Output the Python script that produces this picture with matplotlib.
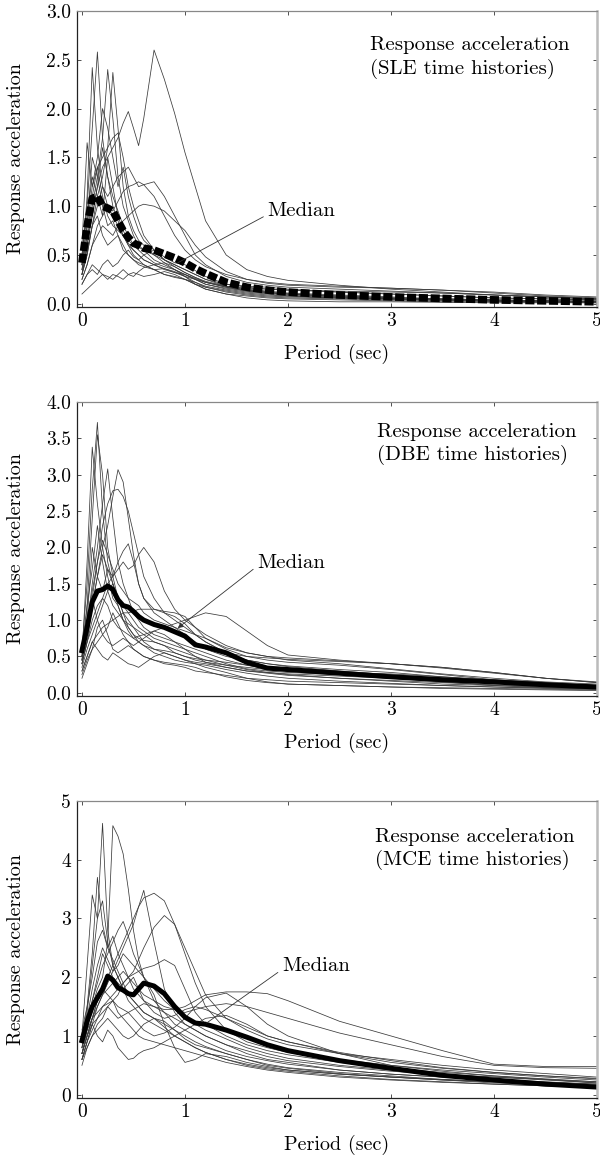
import matplotlib
matplotlib.use("Agg")
import matplotlib.pyplot as plt

plt.rcParams['font.family'] = ['cmr10', 'DejaVu Serif']
plt.rcParams['axes.formatter.use_mathtext'] = True
plt.rcParams['mathtext.fontset'] = 'cm'

# periods (sec) shared by every spectrum
periods = [0, 0.05, 0.1, 0.15, 0.2, 0.25, 0.3, 0.35, 0.4, 0.45, 0.5, 0.55, 0.6,
           0.7, 0.8, 0.9, 1.0, 1.1, 1.2, 1.4, 1.6, 1.8, 2.0, 2.5, 3.0, 3.5, 4.0, 4.5, 5.0]

# SLE time histories
sle_curves = [
    [0.3, 0.6, 0.9, 1.2, 1.4, 1.5, 1.6, 1.7, 1.85, 1.97, 1.8, 1.62, 1.9, 2.6, 2.3, 1.95, 1.55, 1.2, 0.85, 0.5, 0.35, 0.28, 0.24, 0.19, 0.15, 0.12, 0.09, 0.07, 0.05],
    [0.5, 1.0, 1.8, 2.58, 1.7, 1.3, 1.1, 0.95, 0.8, 0.7, 0.6, 0.55, 0.5, 0.42, 0.38, 0.35, 0.3, 0.26, 0.22, 0.17, 0.13, 0.11, 0.09, 0.07, 0.05, 0.04, 0.03, 0.025, 0.02],
    [0.4, 1.1, 2.42, 1.6, 1.2, 1.0, 0.9, 0.8, 0.7, 0.6, 0.55, 0.5, 0.45, 0.4, 0.35, 0.32, 0.3, 0.25, 0.2, 0.15, 0.12, 0.1, 0.08, 0.06, 0.05, 0.04, 0.03, 0.02, 0.02],
    [0.35, 0.6, 1.0, 1.3, 1.7, 2.4, 1.9, 1.3, 1.0, 0.85, 0.7, 0.6, 0.55, 0.45, 0.4, 0.35, 0.3, 0.25, 0.2, 0.16, 0.13, 0.11, 0.1, 0.07, 0.05, 0.04, 0.03, 0.03, 0.02],
    [0.3, 0.5, 0.8, 1.1, 1.3, 1.6, 2.37, 1.8, 1.2, 0.9, 0.75, 0.65, 0.6, 0.5, 0.42, 0.38, 0.32, 0.27, 0.22, 0.17, 0.14, 0.12, 0.1, 0.08, 0.06, 0.05, 0.04, 0.03, 0.03],
    [0.6, 1.65, 1.2, 1.4, 1.1, 0.9, 0.8, 0.75, 0.7, 0.6, 0.5, 0.45, 0.4, 0.35, 0.3, 0.28, 0.25, 0.22, 0.18, 0.14, 0.11, 0.09, 0.08, 0.06, 0.05, 0.04, 0.035, 0.03, 0.025],
    [0.3, 0.5, 0.8, 1.0, 1.2, 1.1, 1.2, 1.3, 1.35, 1.4, 1.3, 1.2, 1.22, 1.25, 1.1, 0.9, 0.7, 0.5, 0.4, 0.28, 0.22, 0.19, 0.17, 0.15, 0.13, 0.11, 0.09, 0.07, 0.05],
    [0.4, 0.7, 1.1, 1.4, 1.5, 1.6, 1.7, 1.75, 1.5, 1.2, 1.0, 0.85, 0.7, 0.55, 0.45, 0.38, 0.32, 0.27, 0.23, 0.18, 0.15, 0.13, 0.11, 0.09, 0.07, 0.05, 0.04, 0.03, 0.02],
    [0.25, 0.4, 0.6, 0.7, 0.8, 0.75, 0.7, 0.8, 0.85, 0.9, 0.95, 1.0, 1.02, 1.0, 0.95, 0.85, 0.75, 0.6, 0.48, 0.33, 0.25, 0.21, 0.19, 0.17, 0.16, 0.14, 0.11, 0.08, 0.06],
    [0.1, 0.15, 0.2, 0.25, 0.3, 0.28, 0.25, 0.3, 0.35, 0.3, 0.28, 0.33, 0.37, 0.4, 0.42, 0.35, 0.28, 0.2, 0.15, 0.1, 0.08, 0.06, 0.05, 0.04, 0.03, 0.02, 0.02, 0.015, 0.01],
    [0.2, 0.3, 0.35, 0.3, 0.4, 0.45, 0.38, 0.42, 0.5, 0.55, 0.48, 0.45, 0.5, 0.55, 0.45, 0.4, 0.35, 0.3, 0.25, 0.2, 0.18, 0.17, 0.15, 0.12, 0.1, 0.08, 0.06, 0.05, 0.04],
    [0.5, 0.9, 1.3, 1.1, 0.9, 1.5, 1.2, 0.9, 0.75, 0.65, 0.6, 0.58, 0.55, 0.5, 0.45, 0.4, 0.35, 0.3, 0.25, 0.18, 0.14, 0.12, 0.1, 0.08, 0.06, 0.05, 0.04, 0.03, 0.02],
    [0.35, 0.7, 0.9, 1.2, 1.6, 1.3, 1.0, 0.85, 0.7, 0.62, 0.55, 0.5, 0.45, 0.4, 0.36, 0.32, 0.28, 0.25, 0.22, 0.18, 0.16, 0.15, 0.14, 0.13, 0.12, 0.11, 0.09, 0.07, 0.05],
    [0.3, 0.55, 0.8, 0.9, 0.7, 0.6, 0.65, 0.7, 0.55, 0.5, 0.45, 0.4, 0.38, 0.35, 0.36, 0.33, 0.28, 0.22, 0.17, 0.12, 0.09, 0.07, 0.06, 0.05, 0.04, 0.03, 0.025, 0.02, 0.02],
    [0.25, 0.4, 0.6, 0.8, 0.9, 1.0, 0.95, 1.05, 1.15, 1.2, 1.22, 1.25, 1.22, 1.1, 0.9, 0.7, 0.55, 0.45, 0.38, 0.3, 0.25, 0.22, 0.2, 0.18, 0.16, 0.14, 0.12, 0.09, 0.07],
    [0.45, 0.8, 1.5, 1.3, 1.0, 0.8, 0.85, 0.7, 0.6, 0.5, 0.45, 0.42, 0.4, 0.35, 0.3, 0.27, 0.25, 0.2, 0.17, 0.13, 0.1, 0.08, 0.07, 0.06, 0.05, 0.04, 0.03, 0.03, 0.02],
    [0.2, 0.3, 0.4, 0.35, 0.3, 0.25, 0.3, 0.28, 0.25, 0.3, 0.32, 0.3, 0.28, 0.3, 0.33, 0.3, 0.25, 0.2, 0.15, 0.1, 0.06, 0.04, 0.03, 0.02, 0.02, 0.015, 0.01, 0.01, 0.01],
    [0.4, 0.8, 1.2, 1.5, 2.0, 1.8, 1.5, 1.2, 1.4, 1.1, 0.9, 0.75, 0.65, 0.55, 0.48, 0.42, 0.4, 0.34, 0.28, 0.2, 0.17, 0.15, 0.14, 0.12, 0.1, 0.08, 0.06, 0.05, 0.04],
]
sle_median = [0.42, 0.8, 1.08, 1.1, 1.0, 0.98, 0.95, 0.85, 0.75, 0.68, 0.62, 0.6, 0.57, 0.55, 0.51, 0.47, 0.42, 0.36, 0.31, 0.22, 0.17, 0.14, 0.12, 0.09, 0.07, 0.055, 0.04, 0.03, 0.02]

# DBE time histories
dbe_curves = [
    [0.6, 1.5, 2.8, 3.72, 2.5, 1.8, 1.5, 1.3, 1.1, 1.0, 0.9, 0.85, 0.8, 0.7, 0.65, 0.6, 0.55, 0.5, 0.45, 0.38, 0.32, 0.28, 0.25, 0.2, 0.17, 0.14, 0.11, 0.09, 0.07],
    [0.5, 1.8, 3.38, 2.6, 2.0, 1.6, 1.3, 1.2, 1.0, 0.9, 0.8, 0.7, 0.65, 0.55, 0.5, 0.45, 0.42, 0.4, 0.38, 0.32, 0.27, 0.23, 0.2, 0.16, 0.13, 0.1, 0.08, 0.06, 0.05],
    [0.45, 1.2, 2.4, 3.55, 3.0, 2.0, 1.6, 1.3, 1.2, 1.1, 1.0, 0.9, 0.85, 0.75, 0.7, 0.65, 0.6, 0.55, 0.5, 0.4, 0.33, 0.3, 0.28, 0.25, 0.22, 0.18, 0.14, 0.11, 0.09],
    [0.5, 0.9, 1.5, 2.0, 2.6, 3.08, 2.4, 1.8, 1.5, 1.3, 1.1, 1.0, 0.9, 0.8, 0.75, 0.7, 0.65, 0.6, 0.55, 0.45, 0.38, 0.33, 0.3, 0.26, 0.22, 0.18, 0.14, 0.11, 0.08],
    [0.4, 0.7, 1.2, 1.6, 2.0, 2.3, 2.7, 3.07, 2.9, 2.4, 1.9, 1.5, 1.3, 1.1, 1.0, 0.9, 0.8, 0.7, 0.6, 0.5, 0.45, 0.4, 0.36, 0.3, 0.25, 0.2, 0.16, 0.13, 0.1],
    [0.45, 0.8, 1.3, 1.8, 2.3, 2.6, 2.78, 2.8, 2.7, 2.5, 2.2, 1.9, 1.6, 1.3, 1.1, 1.0, 0.9, 0.8, 0.7, 0.55, 0.45, 0.4, 0.37, 0.32, 0.28, 0.22, 0.17, 0.13, 0.1],
    [0.4, 0.7, 1.0, 1.2, 1.3, 1.5, 1.6, 1.7, 1.8, 1.7, 1.75, 1.9, 2.0, 1.8, 1.4, 1.15, 1.0, 0.9, 0.8, 0.65, 0.55, 0.5, 0.48, 0.44, 0.4, 0.34, 0.27, 0.2, 0.15],
    [0.5, 0.8, 1.2, 1.6, 1.9, 1.7, 1.6, 1.8, 1.95, 2.05, 1.8, 1.5, 1.3, 1.15, 1.1, 1.05, 0.95, 0.8, 0.7, 0.55, 0.5, 0.48, 0.46, 0.43, 0.4, 0.35, 0.28, 0.2, 0.14],
    [0.3, 0.5, 0.7, 0.8, 0.9, 0.95, 1.0, 1.05, 1.1, 1.1, 1.12, 1.15, 1.15, 1.15, 1.12, 1.1, 1.05, 0.9, 0.75, 0.6, 0.5, 0.45, 0.42, 0.38, 0.32, 0.25, 0.18, 0.14, 0.1],
    [0.25, 0.45, 0.6, 0.7, 0.8, 0.7, 0.65, 0.7, 0.75, 0.7, 0.65, 0.7, 0.75, 0.85, 0.9, 0.95, 1.0, 1.05, 1.1, 1.05, 0.85, 0.65, 0.52, 0.45, 0.4, 0.35, 0.28, 0.2, 0.14],
    [0.3, 0.5, 0.7, 0.6, 0.5, 0.45, 0.55, 0.5, 0.45, 0.4, 0.38, 0.35, 0.4, 0.5, 0.55, 0.5, 0.45, 0.4, 0.35, 0.28, 0.2, 0.15, 0.12, 0.1, 0.08, 0.06, 0.05, 0.04, 0.03],
    [0.2, 0.4, 0.6, 0.9, 1.0, 0.8, 0.6, 0.55, 0.6, 0.65, 0.6, 0.55, 0.5, 0.45, 0.4, 0.38, 0.35, 0.3, 0.28, 0.24, 0.2, 0.18, 0.16, 0.14, 0.12, 0.1, 0.08, 0.07, 0.06],
    [0.5, 1.0, 2.0, 1.6, 1.4, 1.7, 1.5, 1.3, 1.1, 0.9, 0.8, 0.75, 0.72, 0.7, 0.65, 0.55, 0.5, 0.45, 0.42, 0.38, 0.35, 0.32, 0.3, 0.25, 0.2, 0.16, 0.13, 0.1, 0.08],
    [0.6, 1.2, 1.7, 2.3, 1.8, 1.4, 1.2, 1.1, 1.0, 0.95, 0.9, 0.8, 0.7, 0.6, 0.58, 0.55, 0.5, 0.47, 0.45, 0.42, 0.38, 0.33, 0.3, 0.28, 0.26, 0.22, 0.18, 0.14, 0.1],
    [0.35, 0.6, 0.8, 1.0, 1.2, 1.4, 1.5, 1.2, 1.0, 0.85, 0.75, 0.7, 0.65, 0.6, 0.55, 0.5, 0.45, 0.42, 0.4, 0.35, 0.3, 0.27, 0.24, 0.2, 0.16, 0.12, 0.1, 0.08, 0.06],
    [0.4, 0.7, 0.9, 1.1, 1.3, 1.2, 1.0, 0.9, 0.85, 0.8, 0.75, 0.78, 0.8, 0.85, 0.8, 0.7, 0.6, 0.5, 0.42, 0.35, 0.3, 0.28, 0.26, 0.23, 0.2, 0.15, 0.1, 0.07, 0.05],
    [0.45, 0.9, 1.3, 1.0, 0.8, 0.9, 1.1, 0.95, 0.8, 0.7, 0.6, 0.55, 0.5, 0.45, 0.42, 0.4, 0.38, 0.35, 0.3, 0.22, 0.17, 0.14, 0.12, 0.1, 0.08, 0.07, 0.06, 0.05, 0.04],
    [0.55, 0.9, 1.4, 1.8, 2.1, 1.9, 1.7, 1.5, 1.4, 1.3, 1.25, 1.2, 1.1, 1.0, 0.95, 0.9, 0.85, 0.8, 0.75, 0.62, 0.55, 0.5, 0.45, 0.4, 0.33, 0.26, 0.2, 0.15, 0.12],
]
dbe_median = [0.58, 0.9, 1.25, 1.4, 1.42, 1.47, 1.42, 1.28, 1.2, 1.18, 1.12, 1.05, 1.0, 0.94, 0.9, 0.84, 0.78, 0.66, 0.63, 0.55, 0.42, 0.34, 0.32, 0.27, 0.22, 0.18, 0.15, 0.11, 0.08]

# MCE time histories
mce_curves = [
    [0.8, 1.4, 2.2, 3.0, 4.62, 2.8, 2.2, 2.0, 1.8, 1.6, 1.5, 1.4, 1.3, 1.2, 1.1, 1.0, 0.9, 0.8, 0.72, 0.6, 0.52, 0.46, 0.42, 0.35, 0.3, 0.26, 0.22, 0.19, 0.16],
    [0.7, 1.1, 1.5, 1.8, 2.0, 2.6, 4.58, 4.4, 4.1, 3.5, 2.8, 2.3, 2.0, 1.6, 1.4, 1.2, 1.1, 1.0, 0.9, 0.75, 0.65, 0.58, 0.52, 0.42, 0.35, 0.3, 0.25, 0.21, 0.18],
    [0.6, 0.9, 1.2, 1.5, 1.7, 1.9, 2.1, 2.3, 2.5, 2.7, 2.9, 3.2, 3.48, 2.6, 1.8, 1.4, 1.2, 1.1, 1.0, 0.85, 0.75, 0.65, 0.58, 0.48, 0.4, 0.34, 0.3, 0.26, 0.22],
    [0.7, 1.0, 1.3, 1.6, 1.8, 2.0, 2.2, 2.4, 2.6, 2.8, 3.0, 3.2, 3.35, 3.43, 3.3, 2.9, 2.4, 1.9, 1.5, 1.1, 0.9, 0.8, 0.72, 0.6, 0.5, 0.42, 0.36, 0.3, 0.25],
    [0.6, 0.9, 1.1, 1.3, 1.5, 1.6, 1.7, 1.8, 1.9, 2.0, 2.1, 2.3, 2.5, 2.85, 3.05, 2.9, 2.5, 2.1, 1.7, 1.3, 1.1, 0.95, 0.85, 0.7, 0.6, 0.5, 0.42, 0.36, 0.3],
    [0.9, 1.5, 2.4, 3.7, 2.9, 2.5, 2.3, 2.1, 1.9, 1.7, 1.6, 1.5, 1.4, 1.3, 1.2, 1.1, 1.0, 0.9, 0.82, 0.7, 0.6, 0.52, 0.46, 0.38, 0.32, 0.26, 0.22, 0.18, 0.15],
    [1.0, 2.2, 3.4, 3.0, 3.3, 2.6, 2.2, 2.0, 1.8, 1.7, 1.6, 1.5, 1.4, 1.3, 1.15, 1.0, 0.9, 0.8, 0.72, 0.6, 0.5, 0.44, 0.4, 0.32, 0.26, 0.22, 0.18, 0.15, 0.12],
    [0.8, 1.2, 1.6, 1.9, 2.2, 2.4, 2.6, 2.8, 2.95, 2.7, 2.4, 2.2, 2.0, 1.8, 1.6, 1.45, 1.3, 1.2, 1.1, 0.95, 0.8, 0.7, 0.62, 0.5, 0.42, 0.35, 0.3, 0.25, 0.2],
    [0.7, 1.0, 1.2, 1.3, 1.4, 1.5, 1.4, 1.3, 1.35, 1.4, 1.3, 1.2, 1.1, 1.0, 1.05, 1.15, 1.3, 1.5, 1.65, 1.73, 1.5, 1.2, 1.0, 0.7, 0.5, 0.4, 0.32, 0.26, 0.2],
    [0.8, 1.1, 1.3, 1.4, 1.5, 1.55, 1.6, 1.5, 1.45, 1.4, 1.45, 1.5, 1.55, 1.5, 1.45, 1.45, 1.5, 1.6, 1.7, 1.75, 1.75, 1.72, 1.6, 1.25, 1.0, 0.75, 0.52, 0.48, 0.48],
    [0.6, 0.9, 1.2, 1.0, 0.9, 1.1, 1.0, 0.8, 0.7, 0.6, 0.62, 0.7, 0.75, 0.8, 0.9, 1.0, 1.1, 1.2, 1.3, 1.35, 1.2, 1.0, 0.9, 0.7, 0.55, 0.45, 0.38, 0.32, 0.28],
    [0.7, 1.0, 1.3, 1.6, 1.8, 1.7, 1.6, 1.7, 1.9, 2.0, 2.05, 2.1, 2.15, 2.2, 2.3, 2.2, 1.8, 1.4, 1.2, 1.0, 0.85, 0.75, 0.68, 0.55, 0.45, 0.38, 0.32, 0.27, 0.22],
    [0.9, 1.3, 1.8, 2.2, 2.5, 2.3, 2.1, 2.2, 2.4, 2.3, 2.2, 2.1, 2.0, 1.7, 1.2, 0.8, 0.55, 0.6, 0.7, 0.65, 0.55, 0.48, 0.42, 0.35, 0.3, 0.25, 0.2, 0.17, 0.14],
    [0.5, 0.8, 1.0, 1.2, 1.3, 1.5, 1.6, 1.4, 1.3, 1.2, 1.1, 1.0, 0.95, 0.9, 0.85, 0.8, 0.75, 0.7, 0.65, 0.55, 0.48, 0.42, 0.38, 0.3, 0.25, 0.21, 0.18, 0.15, 0.12],
    [0.7, 1.0, 1.3, 1.5, 1.7, 1.8, 1.9, 2.0, 2.1, 2.0, 1.9, 1.8, 1.7, 1.6, 1.5, 1.45, 1.4, 1.45, 1.5, 1.55, 1.5, 1.4, 1.3, 1.05, 0.85, 0.65, 0.5, 0.46, 0.45],
    [1.1, 1.5, 2.0, 2.6, 2.8, 2.5, 2.7, 2.4, 2.2, 2.0, 1.8, 1.7, 1.6, 1.5, 1.4, 1.3, 1.2, 1.1, 1.0, 0.85, 0.7, 0.6, 0.55, 0.42, 0.35, 0.3, 0.26, 0.22, 0.18],
    [0.6, 0.8, 1.0, 1.1, 1.2, 1.3, 1.2, 1.1, 1.0, 0.95, 1.0, 1.1, 1.2, 1.3, 1.25, 1.1, 0.95, 0.85, 0.8, 0.7, 0.6, 0.5, 0.45, 0.36, 0.3, 0.25, 0.22, 0.19, 0.16],
    [0.9, 1.2, 1.6, 2.0, 2.4, 2.2, 2.0, 1.9, 1.8, 1.9, 2.0, 1.8, 1.6, 1.4, 1.3, 1.35, 1.45, 1.5, 1.45, 1.3, 1.15, 1.0, 0.9, 0.72, 0.58, 0.46, 0.38, 0.32, 0.27],
]
mce_median = [0.92, 1.25, 1.5, 1.65, 1.8, 2.02, 1.95, 1.82, 1.78, 1.72, 1.7, 1.8, 1.9, 1.85, 1.72, 1.5, 1.32, 1.22, 1.2, 1.1, 0.98, 0.85, 0.75, 0.58, 0.45, 0.33, 0.25, 0.18, 0.13]

panel_names = ["SLE", "DBE", "MCE"]
panel_curves = [sle_curves, dbe_curves, mce_curves]
panel_medians = [sle_median, dbe_median, mce_median]
y_ticks = [[0.0, 0.5, 1.0, 1.5, 2.0, 2.5, 3.0],
           [0.0, 0.5, 1.0, 1.5, 2.0, 2.5, 3.0, 3.5, 4.0],
           [0, 1, 2, 3, 4, 5]]
y_labels = [["%.1f" % v for v in y_ticks[0]],
            ["%.1f" % v for v in y_ticks[1]],
            ["%d" % v for v in y_ticks[2]]]
x_ticks = [0, 1, 2, 3, 4, 5]
# (median point, text point) for the "Median" callouts
median_arrow = [((0.93, 0.42), (1.80, 0.95)),
                ((0.93, 0.89), (1.70, 1.79)),
                ((1.21, 1.22), (1.94, 2.19))]

fig = plt.figure(figsize=(6, 11.55), dpi=100)
boxes = [[0.128, 0.7342, 0.867, 0.2563],
         [0.128, 0.3974, 0.867, 0.2545],
         [0.128, 0.0494, 0.867, 0.2571]]
ymax = [3.0, 4.0, 5.0]
text_pos = [(0.563, 0.915), (0.577, 0.93), (0.573, 0.91)]

for i in range(3):
    ax = fig.add_axes(boxes[i])
    for c in panel_curves[i]:
        ax.plot(periods, c, color='#3a3a3a', lw=0.55)
    if i == 0:
        ax.plot(periods, panel_medians[i], color='black', lw=5.5,
                linestyle=(0, (1.2, 0.35)), dash_capstyle='butt')
    else:
        ax.plot(periods, panel_medians[i], color='black', lw=3.6,
                solid_joinstyle='round')

    ax.set_xlim(-0.05, 5.0)
    ax.set_ylim(-ymax[i] * 0.011, ymax[i])
    ax.set_xticks(x_ticks)
    ax.set_xticklabels([str(v) for v in x_ticks])
    ax.set_yticks(y_ticks[i])
    ax.set_yticklabels(y_labels[i])
    ax.tick_params(direction='in', length=3, width=0.6, top=True, right=True,
                   labelsize=14, pad=4, color='#333')
    for side in ['left', 'bottom']:
        ax.spines[side].set_color('#222')
        ax.spines[side].set_linewidth(0.9)
    ax.spines['top'].set_color('#888')
    ax.spines['top'].set_linewidth(0.9)
    ax.spines['right'].set_color('#bbb')
    ax.spines['right'].set_linewidth(1.8)

    ax.set_xlabel("Period (sec)", fontsize=14.5)
    ax.xaxis.set_label_coords(0.5, -0.125)
    ax.set_ylabel("Response acceleration", fontsize=14.5)
    ax.yaxis.set_label_coords(-0.1, 0.5)

    ax.text(text_pos[i][0], text_pos[i][1],
            "Response acceleration\n(%s time histories)" % panel_names[i],
            transform=ax.transAxes, ha='left', va='top', fontsize=15,
            linespacing=1.3)

    pt, tp = median_arrow[i]
    style = '-|>' if i == 1 else '-'
    ax.annotate("Median", xy=pt, xytext=tp, ha='left', va='center', fontsize=15,
                arrowprops=dict(arrowstyle=style, lw=0.6, color='#333',
                                shrinkA=1, shrinkB=0, relpos=(0.0, 0.3),
                                mutation_scale=8))

fig.savefig("out.png", dpi=100)
